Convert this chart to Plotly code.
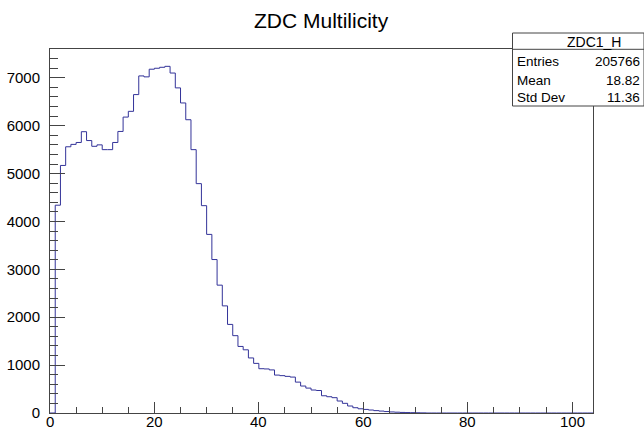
import plotly.graph_objects as go

# Histogram data (bin width 1, range 0..104)
bin_low = 0
bin_width = 1
n_bins = 104
counts = [0, 4340, 5170, 5560, 5610, 5650, 5875, 5690, 5570, 5600,
          5500, 5500, 5650, 5880, 6180, 6300, 6650, 7040, 7020, 7180,
          7200, 7220, 7240, 7100, 6790, 6475, 6125, 5500, 4790, 4330,
          3730, 3205, 2670, 2237, 1850, 1615, 1390, 1320, 1150, 1036,
          925, 920, 900, 792, 780, 765, 750, 645, 563, 520,
          480, 470, 360, 340, 320, 250, 202, 146, 110, 88,
          75, 62, 50, 40, 30, 22, 17, 12, 9, 7,
          5, 3]
counts = counts + [0] * (n_bins - len(counts))

x_tick_vals = [0, 20, 40, 60, 80, 100]
x_tick_text = ["0", "20", "40", "60", "80", "100"]

title_text = "ZDC Multilicity"
stats_name = "ZDC1_H"
stats_labels = ["Entries", "Mean", "Std Dev"]
stats_values = ["205766", "18.82", "11.36"]

W, H = 644, 429
L, R, T, B = 50, 593, 49, 413

edges = [bin_low + i * bin_width for i in range(n_bins + 1)]
xs = [edges[0]] + edges
ys = [0] + counts + [0]

line_col = "#333399"
axis_col = "#444444"

fig = go.Figure()
fig.add_trace(go.Scatter(x=xs, y=ys, mode="lines", line=dict(color=line_col, width=1, shape="hv"),
                         hoverinfo="skip", showlegend=False))

ymax = max(counts) * 1.05

fig.update_layout(
    width=W, height=H,
    margin=dict(l=L, r=W - R, t=T, b=H - B, autoexpand=False),
    paper_bgcolor="white", plot_bgcolor="white",
    font=dict(family="Liberation Sans, Arial, Helvetica", color="black"),
    showlegend=False,
)
fig.update_xaxes(range=[edges[0], edges[-1]], showgrid=False, zeroline=False,
                 showline=True, linecolor=axis_col, linewidth=1, mirror=True,
                 ticks="inside", ticklen=11, tickcolor=axis_col, tickvals=x_tick_vals,
                 showticklabels=False, automargin=False,
                 minor=dict(ticks="inside", ticklen=6, dtick=5, tick0=0, tickcolor=axis_col, showgrid=False))
fig.update_yaxes(range=[0, ymax], showgrid=False, zeroline=False,
                 showline=True, linecolor=axis_col, linewidth=1, mirror=True,
                 ticks="inside", ticklen=15, tickcolor=axis_col, dtick=1000, tick0=0,
                 tickfont=dict(size=15), automargin=False, ticklabelstandoff=6,
                 minor=dict(ticks="inside", ticklen=8, dtick=200, tickcolor=axis_col, showgrid=False))

def px(x):
    return (x - L) / (R - L)

def py(y):
    return (B - y) / (B - T)

# x tick labels placed at data positions
for v, t in zip(x_tick_vals, x_tick_text):
    fig.add_annotation(text=t, xref="x", yref="paper", x=v, y=py(421.5),
                       xanchor="center", yanchor="middle", showarrow=False, font=dict(size=15))

# Stats box
bx0, bx1, by0, by1, byh = 512.5, 644, 33, 106, 49.3
fig.add_shape(type="rect", xref="paper", yref="paper", x0=px(bx0), x1=px(bx1), y0=py(by1), y1=py(by0),
              line=dict(color=axis_col, width=1), fillcolor="white", layer="above")
fig.add_shape(type="line", xref="paper", yref="paper", x0=px(bx0), x1=px(bx1), y0=py(byh), y1=py(byh),
              line=dict(color=axis_col, width=1), layer="above")

fig.add_annotation(text=stats_name, xref="paper", yref="paper", x=px(594), y=py(41.5),
                   xanchor="center", yanchor="middle", showarrow=False, font=dict(size=14))
rows_y = [61.5, 80.5, 97.5]
for lab, val, yy in zip(stats_labels, stats_values, rows_y):
    fig.add_annotation(text=lab, xref="paper", yref="paper", x=px(515), y=py(yy),
                       xanchor="left", yanchor="middle", showarrow=False, font=dict(size=13.5))
    fig.add_annotation(text=val, xref="paper", yref="paper", x=px(642), y=py(yy),
                       xanchor="right", yanchor="middle", showarrow=False, font=dict(size=13.5))

fig.add_annotation(text=title_text, xref="paper", yref="paper", x=px(321), y=py(20),
                   xanchor="center", yanchor="middle", showarrow=False, font=dict(size=21))

fig.write_html("out.html", config={"displayModeBar": False},
               post_script="document.body.style.margin='0px';")
